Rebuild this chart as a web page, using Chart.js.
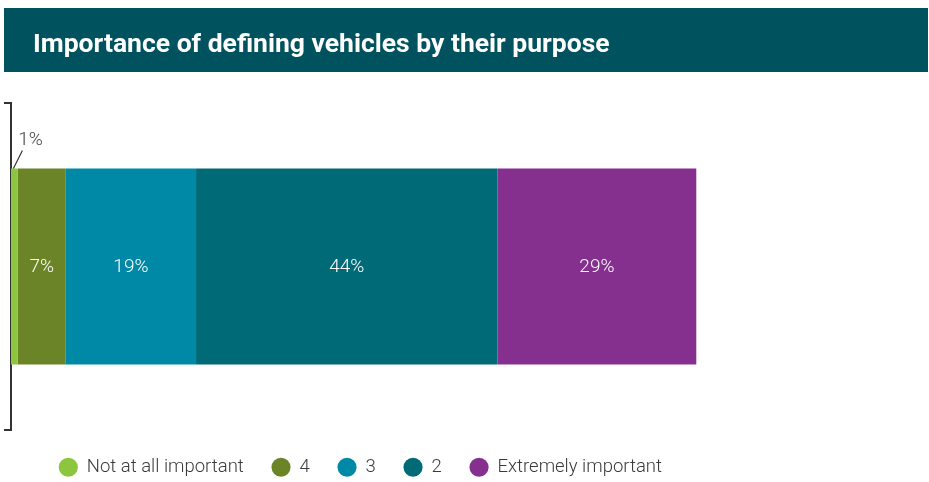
<!DOCTYPE html>
<html>
<head>
<meta charset="utf-8">
<script src="https://cdn.jsdelivr.net/npm/chart.js@4/dist/chart.umd.min.js"></script>
<style>
  html, body { margin: 0; padding: 0; background: #fff; }
  #wrap { width: 929px; height: 482px; position: relative; }
</style>
</head>
<body>
<div id="wrap"><canvas id="chart"></canvas></div>
<script>
// -- data ---------------------------------------------------------------
const TITLE = 'Importance of defining vehicles by their purpose';
const CATEGORIES = [''];
const SERIES = ['Not at all important', '4', '3', '2', 'Extremely important'];
const VALUES = [1, 7, 19, 44, 29];
const COLORS = ['#8CC63F', '#6A8427', '#0089A6', '#006A76', '#85308F'];

const FONT = "Roboto, 'Open Sans', sans-serif";

// header banner + title text
const bannerPlugin = {
  id: 'banner',
  beforeDraw(chart) {
    const ctx = chart.ctx;
    ctx.save();
    ctx.fillStyle = '#00525E';
    ctx.fillRect(4, 8, 924, 64);
    ctx.fillStyle = '#ffffff';
    ctx.font = "bold 26.5px " + FONT;
    ctx.textBaseline = 'alphabetic';
    ctx.textAlign = 'left';
    ctx.fillText(TITLE, 33, 52);
    ctx.restore();
  }
};

// percentage labels inside each segment; tiny segments get a leader line
const valueLabels = {
  id: 'valueLabels',
  afterDatasetsDraw(chart) {
    const ctx = chart.ctx;
    ctx.save();
    ctx.font = "300 19px " + FONT;
    ctx.textAlign = 'center';
    ctx.textBaseline = 'middle';
    chart.data.datasets.forEach((ds, i) => {
      const bar = chart.getDatasetMeta(i).data[0];
      const v = ds.data[0];
      const cx = (bar.x + bar.base) / 2;
      const top = bar.y - bar.height / 2;
      if (v < 3) {
        ctx.strokeStyle = '#333';
        ctx.lineWidth = 1.2;
        ctx.beginPath();
        ctx.moveTo(cx - 1, top);
        ctx.lineTo(cx + 8, top - 18);
        ctx.stroke();
        ctx.fillStyle = '#444';
        ctx.fillText(v + '%', cx + 16, top - 28);
      } else {
        ctx.fillStyle = '#ffffff';
        ctx.fillText(v + '%', cx, bar.y + 1);
      }
    });
    ctx.restore();
  }
};

new Chart(document.getElementById('chart'), {
  type: 'bar',
  data: {
    labels: CATEGORIES,
    datasets: SERIES.map((name, i) => ({
      label: name,
      data: [VALUES[i]],
      backgroundColor: COLORS[i],
      borderWidth: 0,
      barPercentage: 0.6,
      categoryPercentage: 1,
    })),
  },
  options: {
    indexAxis: 'y',
    responsive: true,
    maintainAspectRatio: false,
    animation: false,
    layout: { padding: { left: 4, top: 103, right: 219, bottom: 0 } },
    plugins: {
      tooltip: { enabled: false },
      legend: {
        position: 'bottom',
        align: 'center',
        fullSize: false,
        maxHeight: 52,
        labels: {
          usePointStyle: true,
          pointStyle: 'circle',
          boxHeight: 13.5,
          padding: 28,
          color: '#3a3a3a',
          font: { family: FONT, size: 18.5, weight: '300' },
        },
      },
    },
    scales: {
      x: { stacked: true, min: 0, max: 102, display: false },
      y: {
        stacked: true,
        ticks: { display: false },
        grid: {
          drawOnChartArea: false,
          drawTicks: true,
          tickLength: 7,
          color: '#333',
          lineWidth: 2,
        },
        border: { display: true, color: '#333', width: 2 },
      },
    },
  },
  plugins: [bannerPlugin, valueLabels],
});
</script>
</body>
</html>
